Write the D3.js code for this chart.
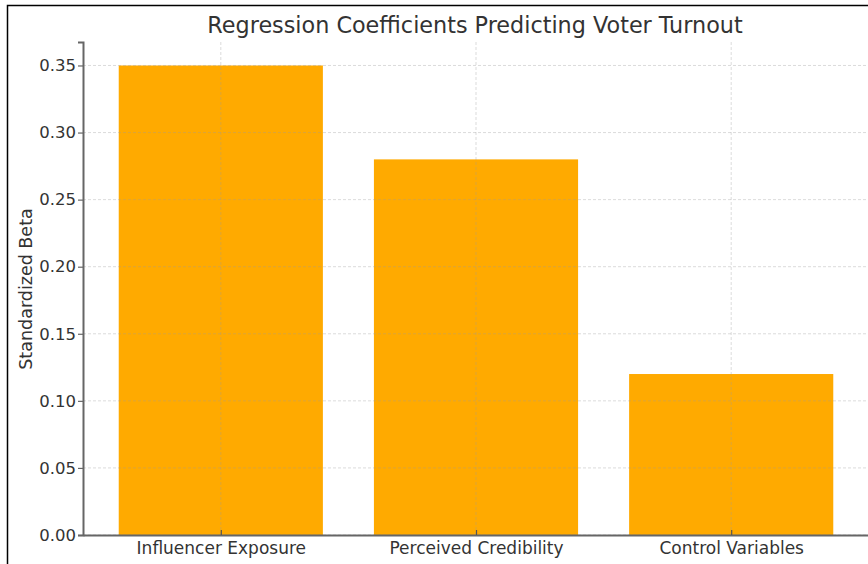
<!DOCTYPE html>
<html>
<head>
<meta charset="utf-8">
<script src="https://cdn.jsdelivr.net/npm/d3@7"></script>
<style>
  html, body { margin: 0; padding: 0; background: #fff; }
  svg { display: block; font-family: "DejaVu Sans", sans-serif; }
</style>
</head>
<body>
<svg id="chart" width="868" height="564"></svg>
<script>
// Regression coefficients (standardized beta) for each predictor
const categories = ["Influencer Exposure", "Perceived Credibility", "Control Variables"];
const betas = [0.35, 0.28, 0.12];
const yTicks = [0.00, 0.05, 0.10, 0.15, 0.20, 0.25, 0.30, 0.35];

const svg = d3.select("#chart");
const W = 868, H = 564;

// Frame border (left and top edges visible)
svg.append("path")
  .attr("d", `M7.5,${H} V5.5 H${W}`)
  .attr("fill", "none").attr("stroke", "#000").attr("stroke-width", 1.5);

const plot = { left: 83, right: 869, top: 42, bottom: 535 };

// Bars 0.8 wide, with 5% margins on each side of the data range
const x = d3.scaleLinear()
  .domain([-0.54, categories.length - 1 + 0.54])
  .range([plot.left, plot.right]);
const barW = x(0.8) - x(0);

const y = d3.scaleLinear().domain([0, 0.3675]).range([plot.bottom, plot.top]);

// Bars
svg.append("g").selectAll("rect").data(betas).join("rect")
  .attr("x", (d, i) => x(i) - barW / 2)
  .attr("width", barW)
  .attr("y", d => y(d))
  .attr("height", d => y(0) - y(d))
  .attr("fill", "#FFAA00");

// Semi-transparent dashed grid over everything
const grid = svg.append("g");
grid.selectAll("line.hy").data(yTicks).join("line").attr("class", "hy")
  .attr("x1", plot.left).attr("x2", plot.right)
  .attr("y1", d => y(d)).attr("y2", d => y(d))
  .attr("stroke", "#999").attr("stroke-opacity", 0.45)
  .attr("stroke-width", 0.8).attr("stroke-dasharray", "3,2");
grid.selectAll("line.vx").data(categories).join("line").attr("class", "vx")
  .attr("x1", (d, i) => x(i)).attr("x2", (d, i) => x(i))
  .attr("y1", plot.top).attr("y2", plot.bottom)
  .attr("stroke", "#999").attr("stroke-opacity", 0.45)
  .attr("stroke-width", 0.8).attr("stroke-dasharray", "3,2");

// Y axis
const yAxis = d3.axisLeft(y).tickValues(yTicks).tickFormat(d3.format(".2f")).tickSize(5).tickPadding(2);
const gy = svg.append("g").attr("transform", `translate(${plot.left},0)`).call(yAxis);
gy.select(".domain").attr("stroke", "#666").attr("stroke-width", 2);
gy.selectAll(".tick line").attr("stroke", "#666").attr("stroke-width", 1.2);
gy.selectAll(".tick text").attr("fill", "#333").style("font-size", "16.5px").style("font-family", "DejaVu Sans, sans-serif");

// X axis (ticks pointing inward)
const xAxis = d3.axisBottom(x).tickValues(d3.range(categories.length))
  .tickFormat(i => categories[i]).tickSizeInner(-5).tickSizeOuter(0).tickPadding(7);
const gx = svg.append("g").attr("transform", `translate(0,${plot.bottom})`).call(xAxis);
gx.select(".domain").attr("stroke", "#666").attr("stroke-width", 2);
gx.selectAll(".tick line").attr("stroke", "#555").attr("stroke-width", 1.2);
gx.selectAll(".tick text").attr("fill", "#333").style("font-size", "17px").style("font-family", "DejaVu Sans, sans-serif");

// Y axis label
svg.append("text")
  .attr("transform", `translate(32,289) rotate(-90)`)
  .attr("text-anchor", "middle")
  .attr("fill", "#333").style("font-size", "17.5px")
  .text("Standardized Beta");

// Title
svg.append("text")
  .attr("x", 475)
  .attr("y", 33)
  .attr("text-anchor", "middle")
  .attr("fill", "#333").style("font-size", "22.3px")
  .text("Regression Coefficients Predicting Voter Turnout");
</script>
</body>
</html>
